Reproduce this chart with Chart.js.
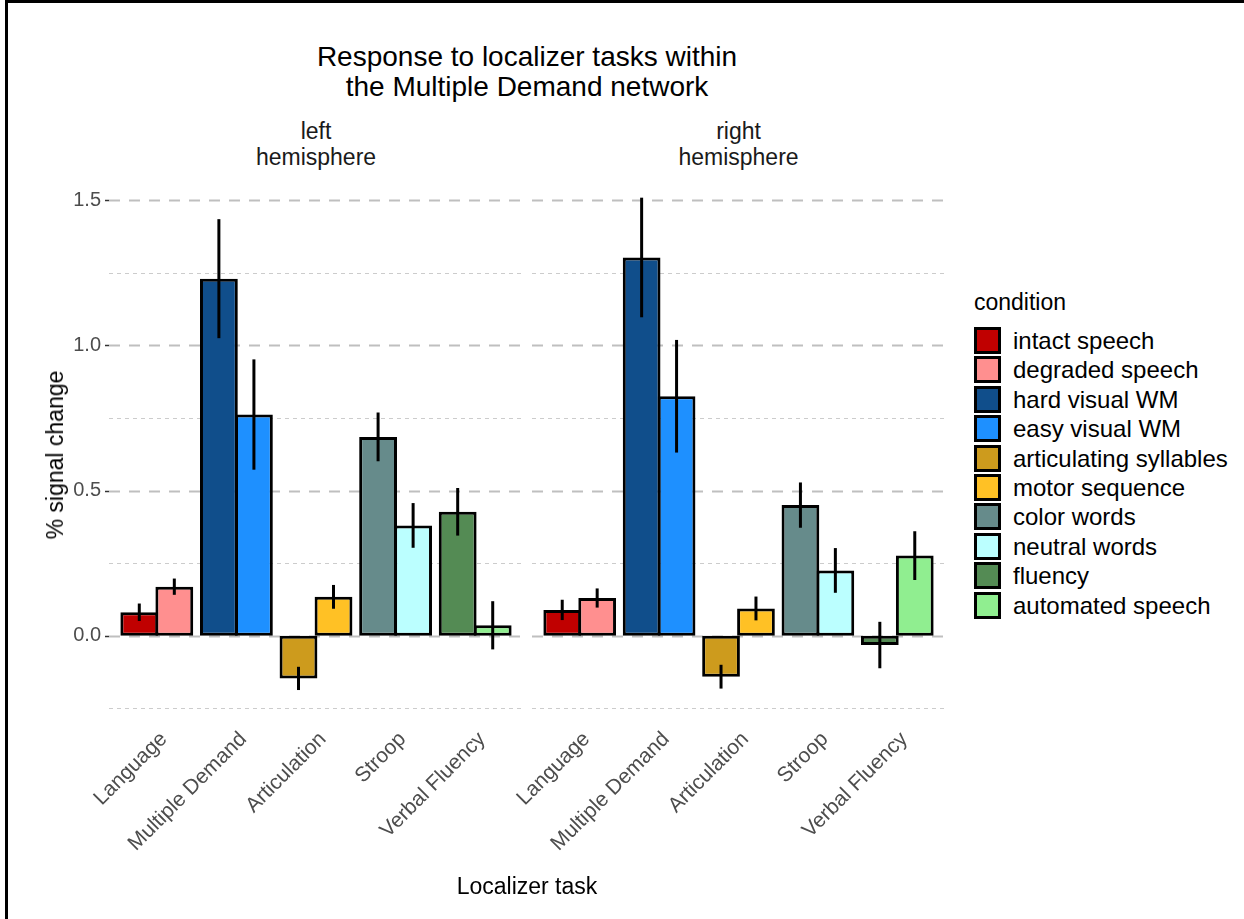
<!DOCTYPE html>
<html>
<head>
<meta charset="utf-8">
<script src="https://cdn.jsdelivr.net/npm/chart.js@4"></script>
<style>
  body { margin: 0; background: #fff; font-family: 'Liberation Sans', Arial, sans-serif; }
  #page { position: relative; width: 1244px; height: 919px; overflow: hidden; background: #fff; }
  #frame { position: absolute; left: 5px; top: 0; width: 1260px; height: 940px; border-left: 3px solid #000; border-top: 3px solid #000; }
  canvas { position: absolute; top: 0; }
  .txt { position: absolute; white-space: nowrap; }
  #title { left: 0; width: 1054px; top: 42px; text-align: center; font-size: 28px; line-height: 30px; color: #000; }
  .strip { top: 118px; text-align: center; font-size: 23px; line-height: 26px; color: #1a1a1a; }
  #xtitle { left: 0; width: 1054px; top: 873px; text-align: center; font-size: 23px; line-height: 26px; color: #000; }
  #ytitle { left: 55px; top: 455px; font-size: 23px; line-height: 26px; transform: translate(-50%, -50%) rotate(-90deg); color: #000; }
  #legend { position: absolute; left: 974px; top: 288px; }
  #legend .head { font-size: 23px; line-height: 28px; color: #000; margin-bottom: 10px; }
  #legend .row { position: relative; height: 29.4px; }
  #legend .key { position: absolute; left: 0; top: 1px; width: 27px; height: 27px; box-sizing: border-box; border: 3px solid #000; }
  #legend .lab { position: absolute; left: 39px; top: 0; font-size: 24px; line-height: 29px; color: #000; white-space: nowrap; }
</style>
</head>
<body>
<div id="page">
  <div id="frame"></div>
  <div class="txt" id="title">Response to localizer tasks within<br>the Multiple Demand network</div>
  <div class="txt strip" style="left:0;width:632px">left<br>hemisphere</div>
  <div class="txt strip" style="left:527px;width:423px">right<br>hemisphere</div>
  <canvas id="leftChart" width="527" height="919" style="left:0"></canvas>
  <canvas id="rightChart" width="510" height="919" style="left:440px"></canvas>
  <div class="txt" id="ytitle">% signal change</div>
  <div class="txt" id="xtitle">Localizer task</div>
  <div id="legend"></div>
</div>
<script>
const tasks = ['Language', 'Multiple Demand', 'Articulation', 'Stroop', 'Verbal Fluency'];

const conditions = ['intact speech', 'degraded speech', 'hard visual WM', 'easy visual WM',
  'articulating syllables', 'motor sequence', 'color words', 'neutral words',
  'fluency', 'automated speech'];
const conditionColors = ['#C00000', '#FF8F8F', '#104E8B', '#1E90FF', '#CD9B1D',
  '#FFC125', '#668B8B', '#BBFFFF', '#548B54', '#90EE90'];

// each task has a harder (first) and an easier/control (second) condition
const leftFirst = [0.081, 1.230, -0.147, 0.685, 0.427];
const leftFirstErr = [0.030, 0.205, 0.040, 0.084, 0.082];
const leftSecond = [0.169, 0.762, 0.134, 0.380, 0.036];
const leftSecondErr = [0.028, 0.190, 0.041, 0.077, 0.083];

const rightFirst = [0.089, 1.303, -0.141, 0.450, -0.032];
const rightFirstErr = [0.035, 0.206, 0.041, 0.078, 0.080];
const rightSecond = [0.130, 0.825, 0.094, 0.225, 0.276];
const rightSecondErr = [0.033, 0.194, 0.041, 0.077, 0.084];

const yMin = -0.273, yMax = 1.594, yStep = 0.25;

Chart.defaults.font.family = "'Liberation Sans', Arial, sans-serif";

const firstColors = conditionColors.filter((_, i) => i % 2 === 0);
const secondColors = conditionColors.filter((_, i) => i % 2 === 1);

function isMajor(v) {
  return Math.abs(v * 2 - Math.round(v * 2)) < 1e-6;
}

// dashed horizontal grid (long dashes on majors, short on minors);
// lines run a little past the bar area, like a ggplot panel expansion
const gridPlugin = {
  id: 'ggGrid',
  beforeDatasetsDraw(chart, args, opts) {
    const { ctx, chartArea } = chart;
    const y = chart.scales.y;
    const x0 = chartArea.left - opts.extend, x1 = chartArea.right + opts.extend;
    ctx.save();
    y.ticks.forEach(t => {
      const py = Math.round(y.getPixelForValue(t.value)) + 0.5;
      const major = isMajor(t.value);
      ctx.beginPath();
      ctx.strokeStyle = major ? '#bfbfbf' : '#cccccc';
      ctx.lineWidth = major ? 2 : 1;
      ctx.setLineDash(major ? [11, 9] : [4, 4]);
      ctx.moveTo(x0, py);
      ctx.lineTo(x1, py);
      ctx.stroke();
      if (major && opts.ticks) {
        ctx.beginPath();
        ctx.setLineDash([]);
        ctx.strokeStyle = '#333';
        ctx.lineWidth = 1.5;
        ctx.moveTo(x0 - 4, py);
        ctx.lineTo(x0, py);
        ctx.stroke();
      }
    });
    ctx.restore();
  }
};

// vertical error bars centred on each bar
const errorBarPlugin = {
  id: 'errorBars',
  afterDatasetsDraw(chart) {
    const { ctx } = chart;
    const y = chart.scales.y;
    ctx.save();
    ctx.strokeStyle = '#000';
    ctx.lineWidth = 3;
    chart.data.datasets.forEach((ds, di) => {
      const meta = chart.getDatasetMeta(di);
      meta.data.forEach((bar, i) => {
        const v = ds.data[i], e = ds.errors[i];
        ctx.beginPath();
        ctx.moveTo(bar.x, y.getPixelForValue(v + e));
        ctx.lineTo(bar.x, y.getPixelForValue(v - e));
        ctx.stroke();
      });
    });
    ctx.restore();
  }
};

function barDataset(values, errors, colors) {
  return {
    data: values,
    errors: errors,
    backgroundColor: colors,
    borderColor: '#000',
    borderWidth: 3,
    borderSkipped: false,
    categoryPercentage: 0.88,
    barPercentage: 1.08
  };
}

function makePanel(id, first, firstErr, second, secondErr, withAxis, padding) {
  return new Chart(document.getElementById(id), {
    type: 'bar',
    data: {
      labels: tasks,
      datasets: [
        barDataset(first, firstErr, firstColors),
        barDataset(second, secondErr, secondColors)
      ]
    },
    plugins: [gridPlugin, errorBarPlugin],
    options: {
      responsive: false,
      animation: false,
      devicePixelRatio: 1,
      layout: { padding: padding },
      plugins: {
        legend: { display: false },
        tooltip: { enabled: false },
        ggGrid: { ticks: withAxis, extend: 8 }
      },
      scales: {
        x: {
          grid: { display: false },
          border: { display: false },
          ticks: {
            autoSkip: false,
            minRotation: 45,
            maxRotation: 45,
            padding: 4,
            labelOffset: 7,
            color: '#4d4d4d',
            font: { size: 21 }
          },
          afterFit(scale) {
            scale.height = 204;
            scale.paddingLeft = 0;
            scale.paddingRight = 0;
          }
        },
        y: {
          display: withAxis,
          min: yMin,
          max: yMax,
          grid: { display: false, drawTicks: false },
          border: { display: false },
          ticks: {
            stepSize: yStep,
            includeBounds: false,
            padding: 16,
            color: '#4d4d4d',
            font: { size: 20 },
            callback: v => isMajor(v) ? v.toFixed(1) : ''
          },
          afterFit(scale) {
            if (withAxis) scale.width = 117;
          }
        }
      }
    }
  });
}

makePanel('leftChart', leftFirst, leftFirstErr, leftSecond, leftSecondErr, true,
  { top: 173, left: 0, right: 12, bottom: 0 });
makePanel('rightChart', rightFirst, rightFirstErr, rightSecond, rightSecondErr, false,
  { top: 173, left: 100, right: 13, bottom: 0 });

// legend
const legend = document.getElementById('legend');
legend.innerHTML = '<div class="head">condition</div>' + conditions.map((c, i) =>
  `<div class="row"><div class="key" style="background:${conditionColors[i]}"></div><div class="lab">${c}</div></div>`
).join('');
</script>
</body>
</html>
